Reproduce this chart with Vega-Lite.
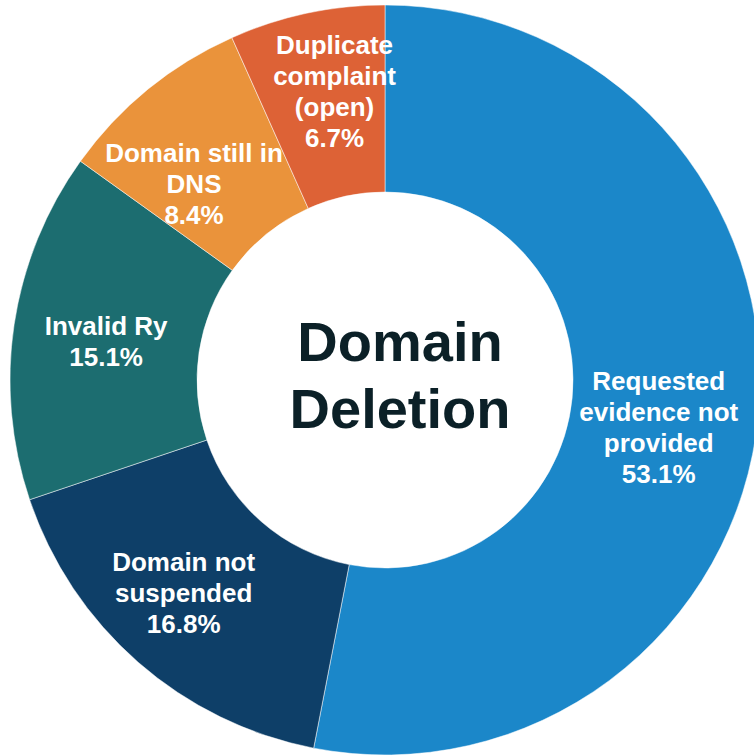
{
  "$schema": "https://vega.github.io/schema/vega-lite/v6.json",
  "width": 738,
  "height": 750,
  "autosize": "none",
  "padding": {"left": 16, "top": 5, "right": 0, "bottom": 0},
  "background": "white",
  "config": {
    "view": {"stroke": null},
    "text": {"radius": 280, "lineBreak": "\n", "font": "Liberation Sans", "fontWeight": "bold", "fontSize": 26, "lineHeight": 31, "color": "white", "align": "center", "baseline": "middle"}
  },
  "data": {
    "values": [
      {"order": 1, "category": "Requested evidence not provided", "label": "Requested\nevidence not\nprovided\n53.1%", "value": 53.1},
      {"order": 2, "category": "Domain not suspended", "label": "Domain not\nsuspended\n16.8%", "value": 16.8},
      {"order": 3, "category": "Invalid Ry", "label": "Invalid Ry\n15.1%", "value": 15.1},
      {"order": 4, "category": "Domain still in DNS", "label": "Domain still in\nDNS\n8.4%", "value": 8.4},
      {"order": 5, "category": "Duplicate complaint (open)", "label": "Duplicate\ncomplaint\n(open)\n6.7%", "value": 6.7}
    ]
  },
  "encoding": {
    "theta": {"field": "value", "type": "quantitative", "stack": true},
    "order": {"field": "order", "type": "quantitative"}
  },
  "layer": [
    {
      "mark": {"type": "arc", "outerRadius": 375, "innerRadius": 188, "stroke": "white", "strokeWidth": 0.5},
      "encoding": {
        "color": {
          "field": "category",
          "type": "nominal",
          "sort": ["Requested evidence not provided", "Domain not suspended", "Invalid Ry", "Domain still in DNS", "Duplicate complaint (open)"],
          "scale": {
            "domain": ["Requested evidence not provided", "Domain not suspended", "Invalid Ry", "Domain still in DNS", "Duplicate complaint (open)"],
            "range": ["#1B87C9", "#0E3F68", "#1C6D70", "#EA933B", "#DD6236"]
          },
          "legend": null
        }
      }
    },
    {
      "mark": {"type": "text", "dx": -5, "dy": -25},
      "encoding": {"text": {"condition": {"test": "datum.category == 'Requested evidence not provided'", "field": "label"}, "value": ""}}
    },
    {
      "mark": {"type": "text", "dx": -17, "dy": -28},
      "encoding": {"text": {"condition": {"test": "datum.category == 'Domain not suspended'", "field": "label"}, "value": ""}}
    },
    {
      "mark": {"type": "text", "dx": -2, "dy": -11},
      "encoding": {"text": {"condition": {"test": "datum.category == 'Invalid Ry'", "field": "label"}, "value": ""}}
    },
    {
      "mark": {"type": "text", "dx": -14, "dy": -9},
      "encoding": {"text": {"condition": {"test": "datum.category == 'Domain still in DNS'", "field": "label"}, "value": ""}}
    },
    {
      "mark": {"type": "text", "dx": 8, "dy": -60},
      "encoding": {"text": {"condition": {"test": "datum.category == 'Duplicate complaint (open)'", "field": "label"}, "value": ""}}
    },
    {
      "data": {"values": [{"title": "Domain\nDeletion"}]},
      "mark": {"type": "text", "radius": 0, "dx": 15, "dy": -36, "fontSize": 56, "lineHeight": 67, "color": "#0B2027"},
      "encoding": {"text": {"field": "title", "type": "nominal"}, "theta": null, "order": null}
    }
  ]
}
